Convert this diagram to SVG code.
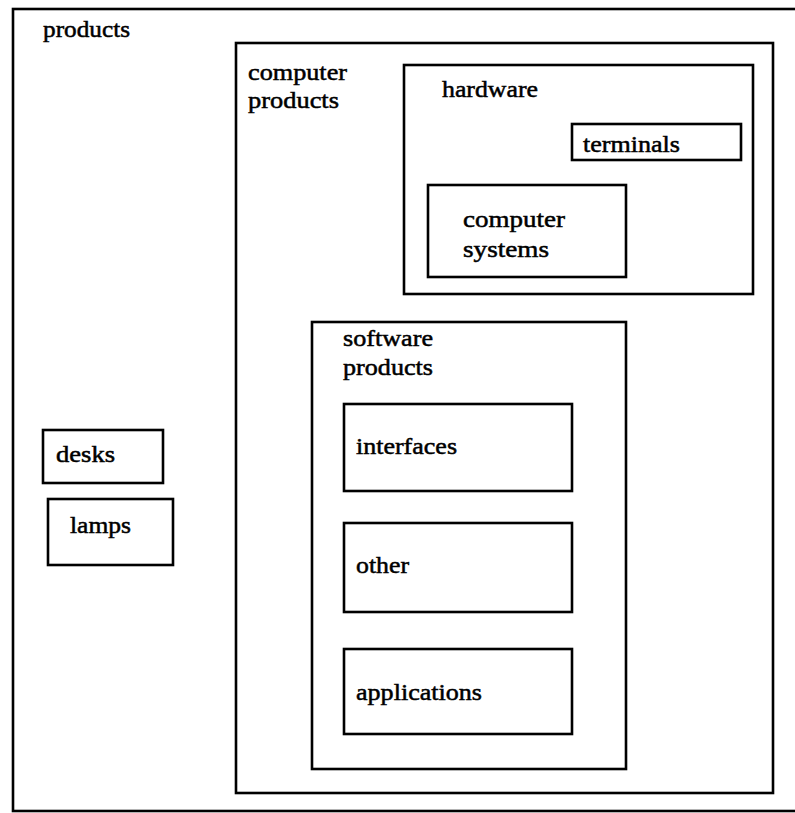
<svg xmlns="http://www.w3.org/2000/svg" width="795" height="813" viewBox="0 0 795 813">
<style>
rect{fill:none;stroke:#000;stroke-width:2.6}
text{font-family:'Liberation Serif','Times New Roman',serif;font-size:23px;fill:#000;stroke:#000;stroke-width:0.5}
</style>
<rect x="0" y="0" width="795" height="813" style="fill:#fff;stroke:none"/>
<g id="products">
<rect x="13" y="9" width="800" height="802"/>
<text x="43" y="37" textLength="87" lengthAdjust="spacingAndGlyphs">products</text>
</g>
<g id="computer-products">
<rect x="236" y="43" width="537" height="750"/>
<text x="248" y="80" textLength="99" lengthAdjust="spacingAndGlyphs">computer</text>
<text x="248" y="108" textLength="91" lengthAdjust="spacingAndGlyphs">products</text>
</g>
<g id="hardware">
<rect x="404" y="65" width="349" height="229"/>
<text x="442" y="97" textLength="96" lengthAdjust="spacingAndGlyphs">hardware</text>
</g>
<g id="terminals">
<rect x="572" y="124" width="169" height="36"/>
<text x="583" y="152" textLength="97" lengthAdjust="spacingAndGlyphs">terminals</text>
</g>
<g id="computer-systems">
<rect x="428" y="185" width="198" height="92"/>
<text x="463" y="227" textLength="102" lengthAdjust="spacingAndGlyphs">computer</text>
<text x="463" y="257" textLength="86" lengthAdjust="spacingAndGlyphs">systems</text>
</g>
<g id="software-products">
<rect x="312" y="322" width="314" height="447"/>
<text x="343" y="346" textLength="90" lengthAdjust="spacingAndGlyphs">software</text>
<text x="343" y="375" textLength="90" lengthAdjust="spacingAndGlyphs">products</text>
</g>
<g id="interfaces">
<rect x="344" y="404" width="228" height="87"/>
<text x="356" y="454" textLength="101" lengthAdjust="spacingAndGlyphs">interfaces</text>
</g>
<g id="other">
<rect x="344" y="523" width="228" height="89"/>
<text x="356" y="573" textLength="53" lengthAdjust="spacingAndGlyphs">other</text>
</g>
<g id="applications">
<rect x="344" y="649" width="228" height="85"/>
<text x="356" y="700" textLength="126" lengthAdjust="spacingAndGlyphs">applications</text>
</g>
<g id="desks">
<rect x="43" y="430" width="120" height="53"/>
<text x="56" y="462" textLength="59" lengthAdjust="spacingAndGlyphs">desks</text>
</g>
<g id="lamps">
<rect x="48" y="499" width="125" height="66"/>
<text x="70" y="533" textLength="61" lengthAdjust="spacingAndGlyphs">lamps</text>
</g>
<g id="connectors"></g>
</svg>
